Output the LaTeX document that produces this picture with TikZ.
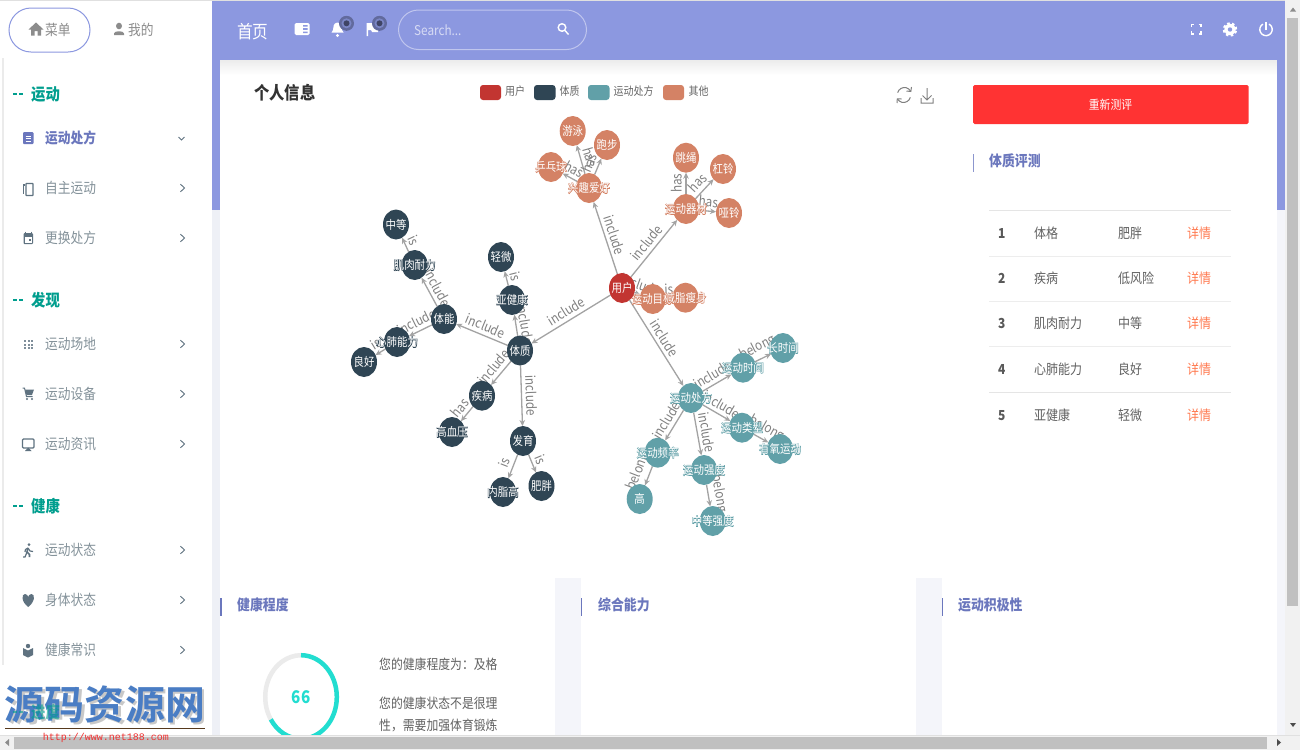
\documentclass[tikz,border=0pt]{standalone}
\usepackage{fontspec}
\setmainfont[FakeStretch=0.87]{Noto Sans CJK SC}
\newfontfamily\wmfont{Noto Sans CJK SC Bold}
\newfontfamily\urlfont{Liberation Mono}
\usetikzlibrary{shapes.geometric,arrows.meta,calc}
\pgfdeclarelayer{bgl}\pgfdeclarelayer{edges}
\pgfsetlayers{bgl,edges,main}
\definecolor{head}{HTML}{8C98E0}
\definecolor{pale}{HTML}{F4F5FA}
\definecolor{palel}{HTML}{EEF0F6}
\definecolor{navc}{HTML}{84929A}
\definecolor{ico}{HTML}{5F7280}
\definecolor{act}{HTML}{6B77BD}
\definecolor{barc}{HTML}{8C96CE}
\definecolor{teal}{HTML}{009E8E}
\definecolor{cred}{HTML}{C23531}
\definecolor{cdark}{HTML}{2F4554}
\definecolor{cteal}{HTML}{61A0A8}
\definecolor{corg}{HTML}{D48265}
\definecolor{sbar}{HTML}{F1F1F1}
\definecolor{sthumb}{HTML}{C0C0C0}
\definecolor{gauge}{HTML}{22DDD0}
\definecolor{wmblue}{HTML}{4A7DC4}
\definecolor{urlred}{HTML}{F03030}
\definecolor{detc}{HTML}{FF7A50}
\tikzset{
 tx/.style={anchor=west,inner sep=0pt,yshift=-.2pt},
 navt/.style={tx,font=\fontsize{14.6}{16}\selectfont,text=navc},
 actt/.style={tx,font=\fontsize{14.6}{16}\selectfont\bfseries,text=act},
 sect/.style={tx,font=\fontsize{16.5}{18}\selectfont\bfseries,text=teal},
 subt/.style={tx,font=\fontsize{14.8}{18}\selectfont\bfseries,text=act},
 tab/.style={tx,font=\fontsize{13.8}{16}\selectfont,text=black!62},
 tabn/.style={tx,font=\fontsize{13.8}{16}\selectfont\bfseries,text=black!65},
 det/.style={tx,font=\fontsize{13.8}{16}\selectfont,text=detc},
 body/.style={tx,font=\fontsize{13.6}{16}\selectfont,text=black!62},
 legt/.style={tx,font=\fontsize{11.5}{13}\selectfont,text=black!60},
 gnode/.style={ellipse,minimum width=26pt,minimum height=30pt,inner sep=0pt,outer sep=0pt,text=white,font=\fontsize{12}{13}\selectfont},
 edge/.style={draw=black!36,line width=1.3pt,-{Stealth[length=6pt,width=5.5pt]}},
 lab/.style={sloped,above=2.5pt,midway,inner sep=1pt,text=black!50,font=\fontsize{13.5}{15}\selectfont},
 chev/.style={draw=ico,line width=.9pt},
 icl/.style={draw=ico,line width=1.2pt},
 tool/.style={draw=black!50,line width=1pt},
}
\newcommand\gnd[5]{\node[gnode,fill=#4] (#1) at (#2,#3) {\makebox[0pt]{\special{pdf:code 1 Tr 0.9 w #5 RG}\gtxt\special{pdf:code 0 Tr}}\makebox[0pt]{\gtxt}};}
\newcommand\gtxt{}
\newcommand\gD[4]{\renewcommand\gtxt{#4}\gnd{#1}{#2}{#3}{cdark}{.184 .271 .329}}
\newcommand\gT[4]{\renewcommand\gtxt{#4}\gnd{#1}{#2}{#3}{cteal}{.38 .627 .659}}
\newcommand\gO[4]{\renewcommand\gtxt{#4}\gnd{#1}{#2}{#3}{corg}{.831 .51 .396}}
\newcommand\gedge[3]{\begin{pgfonlayer}{edges}\draw[edge] (#1) -- node[lab]{#3} (#2);\end{pgfonlayer}}
\newcommand\chevr[2]{\draw[chev] (#1-2,#2-3.8) -- (#1+2,#2) -- (#1-2,#2+3.8);}
\begin{document}
\begin{tikzpicture}[x=1pt,y=-1pt]
\useasboundingbox (0,0) rectangle (1300,750);
\begin{pgfonlayer}{bgl}
\fill[white] (0,0) rectangle (1300,750);
\fill[black!12] (0,0) rectangle (1300,1);
\fill[palel] (212,60) rectangle (220,735);
\fill[head] (212,1) rectangle (1285,60);
\fill[head] (212,60) rectangle (220,210);
\fill[pale] (1277,60) rectangle (1285,735);
\fill[head] (1277,60) rectangle (1285,210);
\fill[white] (220,60) rectangle (1277,735);
\foreach \i in {0,...,14}{\pgfmathsetmacro\k{(15-\i)*.5}\fill[black!\k] (220,60+\i) rectangle (1277,61+\i);}
\fill[pale] (555,578) rectangle (581,735);
\fill[pale] (916,578) rectangle (942,735);
\fill[black!8] (2,58) rectangle (3.5,665);
\end{pgfonlayer}

% top nav pill
\draw[draw=head,line width=1pt,rounded corners=22pt] (9,8) rectangle (90,52);
\fill[black!45] (28.5,29.5) -- (36,22.5) -- (43.5,29.5) -- (41,29.5) -- (41,35.5) -- (37.5,35.5) -- (37.5,31) -- (34.5,31) -- (34.5,35.5) -- (31,35.5) -- (31,29.5) -- cycle;
\node[navt,text=black!45] (menu) at (45,30) {菜单};
\fill[black!45] (119,26) ellipse (3pt and 3.3pt);
\fill[black!45] (114,35) -- (114,33.5) .. controls (114,30.5) and (124,30.5) .. (124,33.5) -- (124,35) -- cycle;
\node[navt,text=black!45] (mine) at (128,30) {我的};

% sidebar
\foreach \nm/\t/\yy in {a/运动/94,b/发现/300,c/健康/506}{
 \fill[teal] (13,\yy-1) rectangle (17,\yy+1);\fill[teal] (19,\yy-1) rectangle (23,\yy+1);
 \node[sect] (sec\nm) at (31,\yy) {\t};}
\node[actt] (m1) at (45,138) {运动处方};
\foreach \nm/\t/\yy in {m2/自主运动/188,m3/更换处方/238,m4/运动场地/344,m5/运动设备/394,m6/运动资讯/444,m7/运动状态/550,m8/身体状态/600,m9/健康常识/650}{
 \node[navt] (\nm) at (45,\yy) {\t};
 \chevr{182.5}{\yy}}
\draw[chev] (178.5,137) -- (181.5,140) -- (184.5,137);
% icons
\fill[act,rounded corners=1pt] (23,132) rectangle (33.5,144);
\draw[white,line width=1pt] (25.5,136) -- (31,136) (25.5,138.5) -- (31,138.5) (25.5,141) -- (31,141);
\draw[icl] (25,185) -- (23.5,185) -- (23.5,194);
\draw[icl,rounded corners=.5pt] (26,183.5) rectangle (33,195.5);
\fill[ico,rounded corners=1pt] (23.5,233) rectangle (33,244);
\fill[white] (25,236.5) rectangle (31.5,242.5);
\fill[ico] (28.5,238.5) rectangle (31,241);
\draw[ico,line width=1pt] (25.5,231.5) -- (25.5,233.5) (31,231.5) -- (31,233.5);
\foreach \i in {0,1,2}\foreach \j in {0,1,2}\fill[ico!80!white] (24+\i*3.5,340+\j*3.5) rectangle (26.2+\i*3.5,342.2+\j*3.5);
\fill[ico] (25,389.5) -- (34,389.5) -- (32,395) -- (26.5,395) -- cycle;
\draw[icl,line width=1pt] (22.5,388) -- (24.5,388) -- (26.5,396.5) -- (32.5,396.5);
\fill[ico] (27,399) circle (1.2pt) (32,399) circle (1.2pt);
\draw[icl,rounded corners=1pt] (22.5,439) rectangle (34,448);
\fill[ico] (25,451) -- (31.5,451) -- (28.2,447.5) -- cycle;
\fill[ico] (29,544.5) circle (1.5pt);
\draw[ico,line width=1.6pt] (28,548) -- (27,552) -- (29.5,554.5) -- (29.5,557);
\draw[ico,line width=1.2pt] (27,552) -- (25,557) -- (23,557) (28,548) -- (25.5,549.5) -- (25,552) (28,548) -- (30,551) -- (33,551.5);
\fill[ico] (28.2,607) .. controls (21,601.5) and (21.5,594) .. (25,594) .. controls (26.8,594) and (28,595.5) .. (28.2,597) .. controls (28.5,595.5) and (29.7,594) .. (31.5,594) .. controls (35,594) and (35.5,601.5) .. (28.2,607) -- cycle;
\fill[ico] (28,646) circle (2.2pt);
\fill[ico] (23,648) -- (28,650.5) -- (33,648) -- (33,655) -- (28,657.5) -- (23,655) -- cycle;

% header
\node[tx,font=\fontsize{18}{20}\selectfont,text=white] (home) at (237,31.5) {首页};
\fill[white,rounded corners=1.5pt] (294.5,23) rectangle (309.5,35);
\fill[head] (303,25) rectangle (307.5,26.5) (303,28.2) rectangle (307.5,29.8) (303,31.5) rectangle (307.5,33);
\fill[white] (337.5,22.5) .. controls (333,23) and (333.5,27) .. (333,30) -- (331.5,32.5) -- (343.5,32.5) -- (342,30) .. controls (341.5,27) and (342,23) .. (337.5,22.5) -- cycle;
\fill[white] (337.5,35.5) circle (1.6pt);
\fill[white] (366.5,23) -- (372,23) -- (373,25) -- (378,25) -- (378,32) -- (372,32) -- (371,30) -- (368,30) -- (368,36) -- (366.5,36) -- cycle;
\foreach \bx in {346.5,379.5}{
 \fill[black!30!head] (\bx,23.3) circle (7.5pt);
 \fill[black!12!head] (\bx,23.3) circle (5pt);
 \fill[black!55!head] (\bx,23.3) circle (3pt);}
\draw[white!45!head,line width=1pt,rounded corners=20pt] (398.5,10) rectangle (586.5,49.5);
\node[tx,font=\fontsize{13.5}{15}\selectfont,text=white!65!head] (srch) at (414,30) {Search...};
\draw[white,line width=1.4pt] (562,27.5) circle (3.8pt) (565,30.5) -- (568.5,34.5);
% right icons
\draw[white,line width=1.6pt] (1191.5,27) -- (1191.5,24.5) -- (1194,24.5) (1198.5,24.5) -- (1201,24.5) -- (1201,27) (1201,31) -- (1201,34) -- (1198.5,34) (1194,34) -- (1191.5,34) -- (1191.5,31);
\draw[white,line width=2.4pt,dash pattern=on 2.5pt off 2.3pt] (1230,29.5) circle (6pt);
\fill[white] (1230,29.5) circle (5.7pt);
\fill[head] (1230,29.5) circle (2.2pt);
\draw[white,line width=1.4pt] (1262.9,24.1) arc[start angle=120,end angle=420,radius=6.2pt];
\draw[white,line width=1.4pt] (1266,22) -- (1266,30);

% card head
\node[tx,font=\fontsize{17.6}{20}\selectfont\bfseries,text=black!80] (title) at (254,92.5) {个人信息};
\fill[cred,rounded corners=3pt] (480,85) rectangle (501,100);
\fill[cdark,rounded corners=3pt] (534,85) rectangle (555.5,100);
\fill[cteal,rounded corners=3pt] (588,85) rectangle (609.5,100);
\fill[corg,rounded corners=3pt] (663,85) rectangle (684,100);
\node[legt] (l1) at (505,91) {用户};
\node[legt] (l2) at (559.5,91) {体质};
\node[legt] (l3) at (613.5,91) {运动处方};
\node[legt] (l4) at (688.5,91) {其他};
\draw[tool] (910.5,91) arc[start angle=30,end angle=165,radius=7pt];
\draw[tool] (897.5,99) arc[start angle=210,end angle=345,radius=7pt];
\draw[tool] (911.5,87) -- (910.8,91.5) -- (906.5,91);
\draw[tool] (897,103) -- (897.3,98.8) -- (901.5,99);
\draw[tool] (927,88) -- (927,100) (922.5,95.5) -- (927,100) -- (931.5,95.5) (921,98) -- (921,103) -- (933,103) -- (933,98);

% button and table
\fill[white!0!red!80!white,rounded corners=1.5pt] (973,85) rectangle (1248.5,124);
\node[font=\fontsize{12.4}{15}\selectfont,text=white,inner sep=0pt] (btn) at (1110.5,105) {重新测评};
\fill[barc] (972.5,154) rectangle (974,172);
\node[subt] (ti1) at (989,161) {体质评测};
\fill[black!10] (989,209.5) rectangle (1231,211);
\foreach \yy in {255.5,301,346}{\fill[black!7] (989,\yy) rectangle (1231,\yy+.8);}
\fill[black!10] (989,391.5) rectangle (1231,392.7);
\foreach \nm/\n/\a/\b/\yy in {1/1/体格/肥胖/233,2/2/疾病/低风险/278,3/3/肌肉耐力/中等/323,4/4/心肺能力/良好/369,5/5/亚健康/轻微/415}{
 \node[tabn] (ra\nm) at (998,\yy) {\n};
 \node[tab] (rb\nm) at (1034,\yy) {\a};
 \node[tab] (rc\nm) at (1118,\yy) {\b};
 \node[det] (rd\nm) at (1187,\yy) {详情};}

% bottom panels
\fill[act] (220,598) rectangle (221.8,616);
\fill[act] (581,598) rectangle (582,616);
\fill[act] (941.8,598) rectangle (942.8,616);
\node[subt] (p1) at (237,605) {健康程度};
\node[subt] (p2) at (598,605) {综合能力};
\node[subt] (p3) at (958,605) {运动积极性};
\draw[black!8,line width=4.5pt] (270.8,719.4) arc[start angle=-147.6,end angle=-270,x radius=35.8pt,y radius=41.8pt];
\draw[gauge,line width=4.5pt] (301,655.2) arc[start angle=90,end angle=-147.6,x radius=35.8pt,y radius=41.8pt];
\node[font=\fontsize{17.5}{20}\selectfont\bfseries,text=gauge,inner sep=0pt] (g66) at (301,697) {66};
\node[body] (b1) at (379,664) {您的健康程度为：及格};
\node[body] (b2) at (379,703) {您的健康状态不是很理};
\node[body] (b3) at (379,725) {性，需要加强体育锻炼};

% graph nodes
\gD{zd}{396}{224.5}{中等}
\gD{jr}{414.7}{265}{肌肉耐力}
\gD{tn}{444}{319}{体能}
\gD{xf}{397}{342}{心肺能力}
\gD{lh}{364}{362}{良好}
\gD{qw}{501}{257}{轻微}
\gD{yj}{512}{300}{亚健康}
\gD{tz}{520}{350.5}{体质}
\gD{jb}{482}{395.7}{疾病}
\gD{gx}{452}{432}{高血压}
\gD{fy}{523}{441}{发育}
\gD{nz}{503}{492}{内脂高}
\gD{fp}{541.5}{486}{肥胖}
\gO{yy}{572.7}{131}{游泳}
\gO{pb}{607}{145}{跑步}
\gO{pp}{551}{167}{乒乓球}
\gO{xq}{589}{188}{兴趣爱好}
\gO{ts}{686}{157.7}{跳绳}
\gO{gl}{723}{169}{杠铃}
\gO{yl}{729}{213}{哑铃}
\gO{qc}{686}{209}{运动器材}
\gO{mb}{652.7}{299}{运动目标}
\gO{jz}{685.5}{297.7}{减脂瘦身}
\node[gnode,fill=cred] (yh) at (622,288) {\makebox[0pt]{用户}};
\gT{csj}{783}{348}{长时间}
\gT{sj}{743}{367.7}{运动时间}
\gT{cf}{691}{398}{运动处方}
\gT{lx}{742}{427.7}{运动类型}
\gT{yo}{780}{449}{有氧运动}
\gT{pl}{657.7}{452.7}{运动频率}
\gT{qd}{704}{470}{运动强度}
\gT{gg}{639.7}{499}{高}
\gT{zq}{712.7}{521}{中等强度}

% edges
\gedge{yh}{tz}{include}
\gedge{yh}{xq}{include}
\gedge{yh}{qc}{include}
\gedge{yh}{mb}{include}
\gedge{yh}{cf}{include}
\gedge{tz}{tn}{include}
\gedge{tz}{yj}{include}
\gedge{tz}{jb}{include}
\gedge{tz}{fy}{include}
\gedge{tn}{jr}{include}
\gedge{tn}{xf}{include}
\gedge{jr}{zd}{is}
\gedge{xf}{lh}{is}
\gedge{yj}{qw}{is}
\gedge{jb}{gx}{has}
\gedge{fy}{nz}{is}
\gedge{fy}{fp}{is}
\gedge{xq}{yy}{has}
\gedge{xq}{pb}{has}
\gedge{xq}{pp}{has}
\gedge{qc}{ts}{has}
\gedge{qc}{gl}{has}
\gedge{qc}{yl}{has}
\gedge{mb}{jz}{is}
\gedge{cf}{sj}{include}
\gedge{cf}{lx}{include}
\gedge{cf}{pl}{include}
\gedge{cf}{qd}{include}
\gedge{sj}{csj}{belong}
\gedge{lx}{yo}{belong}
\gedge{pl}{gg}{belong}
\gedge{qd}{zq}{belong}

% scrollbars
\fill[sbar] (1285,0) rectangle (1300,750);
\fill[sbar] (0,735) rectangle (1300,750);
\fill[black!12] (0,735) rectangle (1300,736);
\fill[sthumb] (1287,18) rectangle (1298,606);
\fill[sthumb] (14,737) rectangle (1267,748.5);
\fill[black!45] (1290,11.5) -- (1296,11.5) -- (1293,7.5) -- cycle;
\fill[black!70] (1290,723) -- (1296,723) -- (1293,727) -- cycle;
\fill[black!45] (9,739) -- (9,746) -- (5,742.5) -- cycle;
\fill[black!70] (1277,739) -- (1277,746) -- (1281,742.5) -- cycle;

% watermark
\fill[black!55!brown] (5,727.6) rectangle (205,728.6);
\node[font=\wmfont\fontsize{40}{42}\selectfont,text=black!30,inner sep=0pt,opacity=.7] (wms) at (107,706.5) {源码资源网};
\node[font=\wmfont\fontsize{40}{42}\selectfont,text=wmblue,inner sep=0pt] (wm) at (105,704) {源码资源网};
\fill[teal,opacity=.6] (13,711) rectangle (17,713);\fill[teal,opacity=.6] (19,711) rectangle (23,713);
\node[sect,opacity=.6] (secd) at (31,712) {进度};
\node[font=\urlfont\fontsize{10}{12}\selectfont,text=urlred,inner sep=0pt] (url) at (106,738) {http://www.net188.com};
\end{tikzpicture}
\end{document}
